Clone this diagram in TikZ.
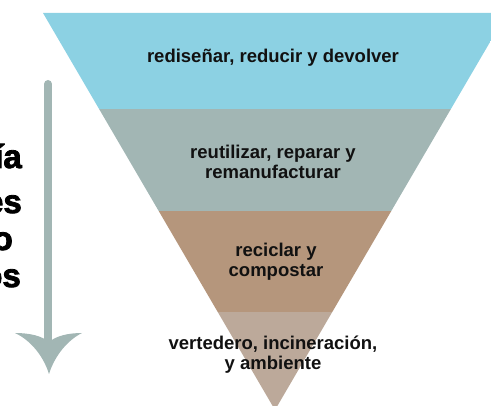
\documentclass[tikz,border=0pt]{standalone}
\usepackage{fontspec}
\setmainfont{Liberation Sans}
\newfontfamily\heavyfont[FakeBold=2.5]{Liberation Sans}
\definecolor{bandA}{HTML}{8CD1E3}
\definecolor{bandB}{HTML}{A2B6B4}
\definecolor{bandC}{HTML}{B5967C}
\definecolor{bandD}{HTML}{BCA99A}
\definecolor{ink}{HTML}{111111}
\begin{document}
\begin{tikzpicture}[x=1pt,y=-1pt,
  bandtext/.style={text=ink, font=\bfseries\fontsize{18.5}{20}\selectfont, align=center, inner sep=0pt},
  sidetext/.style={text=black, font=\heavyfont\bfseries\fontsize{33}{37}\selectfont, anchor=base east, inner sep=0pt}]
\useasboundingbox (0,0) rectangle (491,406);
\begin{scope}
  \clip (0,0) rectangle (491,406);
  \clip (43,13) -- (507,13) -- (275,410) -- cycle;
  \fill[bandA] (0,0) rectangle (520,109);
  \fill[bandB] (0,109) rectangle (520,211);
  \fill[bandC] (0,211) rectangle (520,312);
  \fill[bandD] (0,312) rectangle (520,420);
\end{scope}
\node[bandtext] (t1) at (273,58) {rediseñar, reducir y devolver};
\node[bandtext] (t2) at (273,162) {reutilizar, reparar y\\remanufacturar};
\node[bandtext] (t3) at (276,262) {reciclar y\\compostar};
\node[bandtext] (t4) at (273,355) {vertedero, incineración,\\y ambiente};
% arrow
\coordinate (atop) at (48,84);
\coordinate (ahead) at (48,345);
\draw[bandB, line width=8pt, line cap=round] (atop) -- (ahead);
\fill[bandB] (15,333) .. controls (30,340) and (43,355) .. (49,374)
  .. controls (55,355) and (68,340) .. (82,333)
  .. controls (68,333) and (56,336) .. (49,342)
  .. controls (42,336) and (30,333) .. cycle;
% clipped side text
\begin{scope}
  \clip (0,0) rectangle (491,406);
  \node[sidetext] (s1) at (22,168) {ía};
  \node[sidetext] (s2) at (22,213) {es};
  \node[sidetext] (s3) at (13,250) {o};
  \node[sidetext] (s4) at (21,287) {os};
\end{scope}
\end{tikzpicture}
\end{document}
